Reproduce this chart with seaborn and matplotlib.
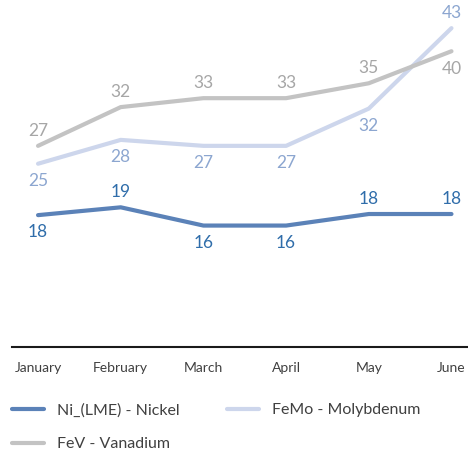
import matplotlib
matplotlib.use("Agg")
import matplotlib.pyplot as plt
import pandas as pd
import seaborn as sns

# values (labels are rounded to whole numbers)
months = ["January", "February", "March", "April", "May", "June"]
nickel = [17.7, 18.75, 16.3, 16.3, 17.85, 17.85]
molybdenum = [24.6, 27.8, 27.0, 27.0, 32.0, 42.8]
vanadium = [27.0, 32.2, 33.4, 33.4, 35.4, 39.7]

series_names = ["Ni_(LME) - Nickel", "FeMo - Molybdenum", "FeV - Vanadium"]
line_colors = ["#5B82B8", "#CDD6EC", "#C3C3C3"]
label_colors = ["#2F6DAA", "#8CA6D0", "#A6A6A6"]
# +1 label above the point, -1 below
label_side = [
    [-1, 1, -1, -1, 1, 1],
    [-1, -1, -1, -1, -1, 1],
    [1, 1, 1, 1, 1, -1],
]

df = pd.DataFrame({
    "month": months * 3,
    "pos": list(range(6)) * 3,
    "value": nickel + molybdenum + vanadium,
    "series": [n for n in series_names for _ in months],
})

sns.set_style("white")
plt.rcParams["font.family"] = ["Lato", "DejaVu Sans"]

fig = plt.figure(figsize=(4.68, 4.55), dpi=100)
ax = fig.add_axes([12 / 468, 108 / 455, 456 / 468, 347 / 455])

sns.lineplot(
    data=df, x="pos", y="value", hue="series", hue_order=series_names,
    palette=line_colors, linewidth=3, ax=ax, legend=False,
    solid_capstyle="round",
)

for vals, col, sides in zip([nickel, molybdenum, vanadium], label_colors, label_side):
    for i, (v, s) in enumerate(zip(vals, sides)):
        dy = 11 if s > 0 else -12.5
        ax.annotate(f"{v:.0f}", (i, v), xytext=(0, dy), textcoords="offset points",
                    ha="center", va="center", fontsize=12.5, color=col)

ax.set_xlim(-0.315, 5.2)
ax.set_ylim(0, 347 / 7.45)
ax.set_xticks(range(6))
ax.set_xticklabels(months)
ax.set_yticks([])
ax.set_xlabel("")
ax.set_ylabel("")
ax.tick_params(axis="x", length=0, pad=11, labelsize=10, labelcolor="#404040")
for side in ["top", "left", "right"]:
    ax.spines[side].set_visible(False)
ax.spines["bottom"].set_color("#1a1a1a")
ax.spines["bottom"].set_linewidth(1.5)

# legend fills column-wise: Ni, FeV in the first column, FeMo in the second
order = [0, 2, 1]
handles = [plt.Line2D([], [], color=line_colors[k], lw=3, solid_capstyle="round") for k in order]
fig.legend(handles, [series_names[k] for k in order], loc="upper left",
           bbox_to_anchor=(12 / 468, 1 - 403 / 455), borderpad=0, borderaxespad=0,
           ncol=2, frameon=False, fontsize=11.5, labelcolor="#404040",
           handlelength=2.0, handletextpad=0.8, columnspacing=3.0, labelspacing=1.25)

fig.savefig("out.png", dpi=100)
